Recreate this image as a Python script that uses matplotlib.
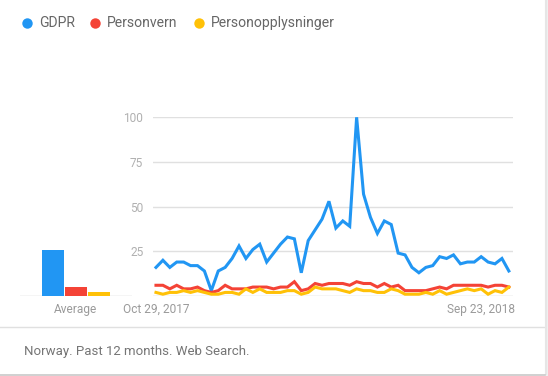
import matplotlib
matplotlib.use('Agg')
import matplotlib.pyplot as plt

plt.rcParams['font.family'] = ['Roboto', 'DejaVu Sans']

terms = ['GDPR', 'Personvern', 'Personopplysninger']
colors = ['#2196f3', '#f44336', '#ffc107']

# weekly interest, Oct 29 2017 .. Oct 14 2018 (52 weeks)
gdpr = [16, 20, 16, 19, 19, 17, 17, 14, 3, 14,
        16, 21, 28, 21, 26, 29, 19, 24, 29, 33,
        32, 13, 31, 37, 43, 53, 38, 42, 39, 100,
        57, 44, 35, 42, 40, 24, 23, 16, 13, 16,
        17, 22, 21, 23, 18, 19, 19, 22, 19, 18,
        21, 14]
personvern = [6, 6, 4, 6, 4, 4, 5, 3, 2, 3,
              6, 4, 4, 4, 5, 5, 5, 4, 5, 5,
              8, 3, 4, 7, 6, 7, 7, 7, 6, 8,
              7, 7, 5, 7, 5, 6, 3, 3, 3, 3,
              4, 5, 4, 6, 6, 6, 6, 6, 5, 6,
              6, 5]
personopplysninger = [2, 1, 2, 2, 3, 2, 3, 2, 1, 1,
                      2, 2, 1, 4, 2, 4, 2, 2, 2, 3,
                      3, 1, 2, 5, 4, 4, 4, 3, 2, 4,
                      3, 3, 2, 2, 4, 3, 1, 1, 1, 2,
                      1, 3, 1, 2, 3, 4, 3, 4, 1, 3,
                      2, 5]
averages = [26, 5, 2]
tick_idx = [0, 47]
tick_labels = ['Oct 29, 2017', 'Sep 23, 2018']
footer = 'Norway. Past 12 months. Web Search.'

W, H = 548, 376
fig = plt.figure(figsize=(W / 100, H / 100), dpi=100)
fig.patch.set_facecolor('white')


def px_box(x0, x1, y_top, y_bot):
    return [x0 / W, 1 - y_bot / H, (x1 - x0) / W, (y_bot - y_top) / H]


# overlay in pixel coords for legend, card borders and footer
ov = fig.add_axes([0, 0, 1, 1])
ov.set_xlim(0, W)
ov.set_ylim(H, 0)
ov.axis('off')
leg_x = [27, 95, 199]
for lx, t, c in zip(leg_x, terms, colors):
    ov.plot(lx, 23, 'o', ms=7.5, color=c, mec='none')
    ov.text(lx + 12, 23, t, fontsize=10.1, color='#666666', va='center', ha='left')
ov.plot([0, 545], [327, 327], color='#e0e0e0', lw=1)
ov.plot([545.5, 545.5], [0, 374], color='#e6e6e6', lw=1.5)
ov.plot([0, 545], [374.5, 374.5], color='#c8c8c8', lw=1.2)
ov.fill_between([546, 548], 0, H, color='#f0f0f0')
ov.text(24, 351, footer, fontsize=9.55, color='#757575', va='center', ha='left')

# average bars
axb = fig.add_axes(px_box(20, 132, 117.3, 296))
axb.patch.set_visible(False)
axb.bar([0, 1, 2], averages, width=0.957, color=colors, zorder=2)
axb.set_xlim(-1.435, 3.435)
axb.set_ylim(0, 100)
axb.axhline(0, color='#d0d0d0', lw=1, zorder=1)
axb.set_yticks([])
axb.set_xticks([1])
axb.set_xticklabels(['Average'])
axb.tick_params(axis='x', length=0, pad=5, labelsize=8.6, labelcolor='#9a9a9a')
for s in axb.spines.values():
    s.set_visible(False)

# main line chart
ax = fig.add_axes(px_box(153, 513, 117.3, 296))
ax.patch.set_visible(False)
n = len(gdpr)
xs = list(range(n))
for series, c in zip([gdpr, personvern, personopplysninger], colors):
    ax.plot(xs, series, color=c, lw=2.2, solid_joinstyle='miter', zorder=3, clip_on=False)
ax.set_xlim(-0.43, 51.6)
ax.set_ylim(0, 100)
for v in [25, 50, 75, 100]:
    ax.axhline(v, color='#e0e0e0', lw=1, zorder=1)
ax.axhline(0, color='#d0d0d0', lw=1, zorder=1)
ax.set_yticks([25, 50, 75, 100])
ax.set_yticklabels(['25', '50', '75', '100'])
ax.tick_params(axis='y', length=0, pad=7, labelsize=8.6, labelcolor='#b0b0b0')
ax.set_xticks(tick_idx)
ax.set_xticklabels(tick_labels)
ax.tick_params(axis='x', length=0, pad=5, labelsize=8.6, labelcolor='#9a9a9a')
for s in ax.spines.values():
    s.set_visible(False)

fig.savefig('out.png', dpi=100)
